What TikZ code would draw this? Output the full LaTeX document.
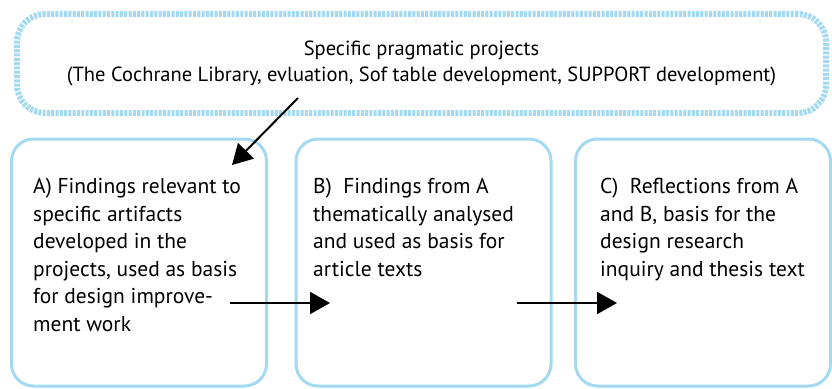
\documentclass[tikz,border=0pt]{standalone}
\usepackage{fontspec}
\setmainfont{PT Sans}
\usetikzlibrary{arrows.meta,positioning}
\definecolor{framecol}{HTML}{A3D9F1}

\begin{document}
\begin{tikzpicture}[
  x=1pt, y=-1pt, >={Triangle[length=20pt,width=22pt]},
  font=\fontsize{21.5}{27.5}\selectfont,
  box/.style={draw=framecol, line width=3pt, rounded corners=22pt,
    minimum width=255pt, minimum height=247pt},
  boxtext/.style={align=left, anchor=north west, inner sep=0pt},
  flow/.style={->, line width=2pt}
]
\useasboundingbox (0,0) rectangle (832,388);

% top frame
\node[draw=framecol, line width=6pt, dash pattern=on 3pt off 1.3pt,
  rounded corners=28pt, minimum width=809pt, minimum height=99pt,
  align=center, font=\fontsize{20.5}{26}\selectfont] (projects) at (421.5,63.5)
  {Specific pragmatic projects\\(The Cochrane Library, evluation, Sof table development, SUPPORT development)};

% three stages
\node[box] (boxA) at (139,262.5) {};
\node[box] (boxB) at (423.5,262.5) {};
\node[box] (boxC) at (703,262.5) {};

\node[boxtext] (textA) at (33,178) {A) Findings relevant to\\specific artifacts\\developed in the\\projects, used as basis\\for design improve-\\ment work};
\node[boxtext] (textB) at (313,178) {B)\ \ Findings from A\\thematically analysed\\and used as basis for\\article texts};
\node[boxtext] (textC) at (600,178) {C)\ \ Reflections from A\\and B, basis for the\\design research\\inquiry and thesis text};

% connectors
\coordinate (diagFrom) at (298,98);
\coordinate (diagTo) at (232,165);
\coordinate (abFrom) at (230,303);
\coordinate (abTo) at (330,303);
\coordinate (bcFrom) at (517,303);
\coordinate (bcTo) at (617,303);
\draw[flow] (diagFrom) -- (diagTo);
\draw[flow] (abFrom) -- (abTo);
\draw[flow] (bcFrom) -- (bcTo);
\end{tikzpicture}
\end{document}
